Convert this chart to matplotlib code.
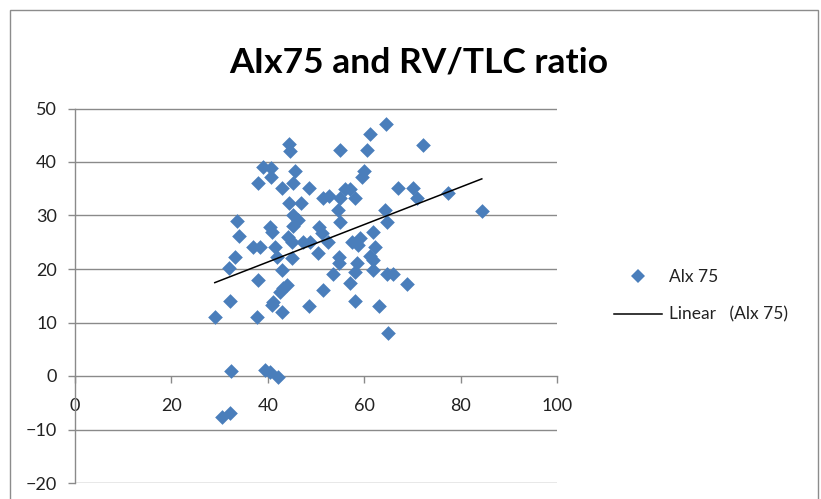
import numpy as np
import matplotlib
matplotlib.use("Agg")
import matplotlib.pyplot as plt
from matplotlib.patches import Rectangle
from matplotlib.lines import Line2D

# Data (RV/TLC ratio vs AIx75)
rv_tlc = [29, 30.5, 32.2, 32.4, 32.2, 32, 33.2, 34, 33.6, 36.9, 38.4, 38, 37.8, 38,
          39, 40.7, 40.6, 39.4, 40.5, 42.1, 40.5, 40.9, 41.5, 41.9, 42.9, 40.9, 41.1,
          42.9, 42.5, 43.2, 44, 42.9, 44.4, 44.6, 44.4, 45.3, 46.3, 45.2, 44.2, 45,
          45, 45.6, 45.3, 46.9, 47.3, 48.8, 48.6, 48.5, 50.4, 50.6, 51.2, 51.4, 52.7,
          52.5, 51.5, 53.5, 55, 55, 54.6, 55, 54.8, 54.8, 56, 57, 57, 57.5, 58.1,
          58.1, 58.5, 58.1, 59.1, 58.7, 60, 59.5, 60.5, 61.3, 61.8, 62.2, 61.2, 61.8,
          61.8, 63.1, 64.3, 64.7, 64.5, 65, 64.7, 66, 67, 68.9, 70.1, 70.9, 72.3,
          77.4, 84.4]
aix75 = [11, -7.7, -6.9, 1, 14, 20.2, 22.2, 26.2, 29, 24.1, 24.1, 18, 11, 36,
         39.1, 38.9, 37.2, 1.1, 0.7, -0.2, 27.9, 26.9, 24.1, 22.2, 19.8, 13.3, 13.8,
         12, 15.7, 16.4, 17, 35.1, 43.4, 42.1, 32.3, 30.1, 29.2, 28, 26, 25,
         22, 38.3, 36, 32.3, 25, 25, 35.1, 13.1, 23, 27.9, 26.7, 33.2, 33.6,
         25, 16.1, 19.1, 42.2, 33.2, 31, 28.8, 22.2, 21.1, 35, 34.9, 17.4, 25, 33.2,
         14, 21.1, 19.4, 25.8, 24.5, 38.3, 37.2, 42.2, 45.2, 26.9, 24.1, 22.4, 21.7,
         19.8, 13.1, 31, 28.8, 47.1, 8, 19.1, 19.1, 35.1, 17.2, 35.1, 33.2, 43.2,
         34.2, 30.8]

title = "AIx75 and RV/TLC ratio"
series_label = "Alx 75"
trend_label = "Linear   (Alx 75)"
x_ticks = [0, 20, 40, 60, 80, 100]
y_ticks = [-20, -10, 0, 10, 20, 30, 40, 50]

plt.rcParams['font.family'] = ['Lato', 'DejaVu Sans']

W, H = 821, 499
fig = plt.figure(figsize=(W / 100, H / 100), dpi=100)

# outer chart border
fig.patches.append(Rectangle((10 / W, -0.1), (818 - 10) / W, (H - 10) / H + 0.1,
                             transform=fig.transFigure, fill=False,
                             edgecolor='#8c8c8c', linewidth=1.0))

ax = fig.add_axes([75 / W, (H - 483) / H, (557 - 75) / W, (483 - 108.5) / H])

blue = '#4a7ebb'
ax.scatter(rv_tlc, aix75, marker='D', s=56, color=blue, zorder=3, linewidths=0)

x = np.array(rv_tlc)
y = np.array(aix75)
slope, intercept = np.polyfit(x, y, 1)
xs = np.array([x.min(), x.max()])
ax.plot(xs, slope * xs + intercept, color='black', linewidth=1.1, zorder=4)

ax.set_xlim(0, 100)
ax.set_ylim(-20, 50)
ax.set_xticks(x_ticks)
ax.set_yticks(y_ticks)

grid_c = '#8a8a8a'
for yt in y_ticks:
    if yt != 0:
        ax.axhline(yt, color=grid_c, linewidth=1.0, zorder=1)

ax.spines['top'].set_visible(False)
ax.spines['right'].set_visible(False)
ax.spines['left'].set_color(grid_c)
ax.spines['bottom'].set_color(grid_c)
ax.spines['bottom'].set_position(('data', 0))
ax.spines['left'].set_linewidth(1.0)
ax.spines['bottom'].set_linewidth(1.0)

ax.tick_params(axis='both', colors=grid_c, labelcolor='#222222', labelsize=13,
               length=5, width=1.0, direction='out')
ax.tick_params(axis='x', pad=11)
ax.tick_params(axis='y', pad=8)
for lab in ax.get_xticklabels():
    lab.set_zorder(5)

fig.text(419 / W, 1 - 63 / H, title, ha='center', va='center',
         fontsize=25.5, fontweight='bold', color='black')

handles = [Line2D([], [], marker='D', linestyle='none', color=blue, markersize=7.5,
                  markeredgewidth=0),
           Line2D([], [], color='black', linewidth=1.1)]
fig.legend(handles, [series_label, trend_label], loc='center left',
           bbox_to_anchor=(598 / W, 1 - 296 / H), frameon=False, fontsize=12.5,
           labelspacing=1.25, handlelength=2.8, handletextpad=0.4, labelcolor='#222222')

fig.savefig('out.png', dpi=100)
